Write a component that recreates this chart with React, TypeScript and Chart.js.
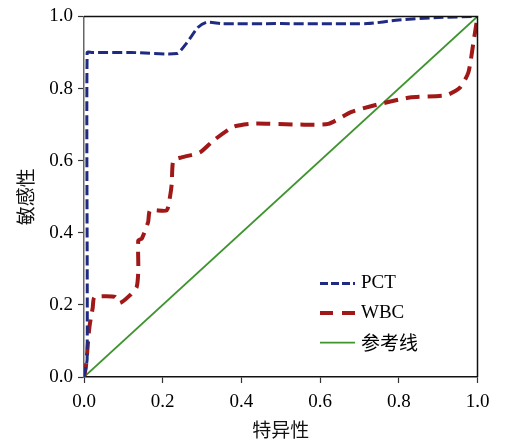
import React, { useEffect, useRef } from "react";
import { Chart, registerables } from "chart.js";

Chart.register(...registerables);

const xTicks = [0, 0.2, 0.4, 0.6, 0.8, 1.0];
const yTicks = [0, 0.2, 0.4, 0.6, 0.8, 1.0];

const seriesLabels = ["PCT", "WBC", "参考线"];

const pctX = [0, 0.008, 0.008, 0.02, 0.12, 0.236, 0.26, 0.29, 0.312, 0.35, 0.5, 0.72, 0.8, 0.9, 1.0];
const pctY = [0, 0.05, 0.9, 0.9, 0.9, 0.897, 0.925, 0.97, 0.984, 0.98, 0.98, 0.98, 0.99, 0.997, 1.0];

const wbcX = [0, 0.005, 0.012, 0.015, 0.022, 0.026, 0.05, 0.079, 0.091, 0.117, 0.134, 0.138, 0.138, 0.147, 0.163, 0.168, 0.21, 0.219, 0.223, 0.227, 0.248, 0.295, 0.329, 0.38, 0.431, 0.55, 0.621, 0.68, 0.744, 0.828, 0.922, 0.956, 0.977, 0.989, 1.0];
const wbcY = [0, 0.03, 0.12, 0.148, 0.191, 0.221, 0.224, 0.222, 0.205, 0.227, 0.25, 0.296, 0.379, 0.384, 0.43, 0.462, 0.462, 0.503, 0.536, 0.6, 0.609, 0.623, 0.656, 0.694, 0.703, 0.7, 0.702, 0.735, 0.755, 0.775, 0.782, 0.803, 0.845, 0.923, 1.0];

const refX = [0, 1];
const refY = [0, 1];

const colors = ["#1f2b82", "#a01818", "#3f9430"];

const toPts = (xs: number[], ys: number[]) => xs.map((x, i) => ({ x, y: ys[i] }));

const serif = "'Liberation Serif', 'Times New Roman', serif";
const cjk = "'Noto Sans CJK SC', 'Noto Sans', sans-serif";

export default function App() {
  const ref = useRef<HTMLCanvasElement | null>(null);
  useEffect(() => {
    if (!ref.current) return;
    const boxPlugin = {
      id: "box",
      afterDatasetsDraw(chart: any) {
        const { ctx, chartArea: a } = chart;
        ctx.save();
        ctx.strokeStyle = "#111";
        ctx.lineWidth = 1.5;
        ctx.beginPath();
        ctx.moveTo(a.left, a.top);
        ctx.lineTo(a.right, a.top);
        ctx.lineTo(a.right, a.bottom);
        ctx.stroke();
        ctx.restore();
      },
    };
    const legendPlugin = {
      id: "customLegend",
      afterDraw(chart: any) {
        const { ctx, chartArea: a } = chart;
        const x0 = a.left + 236;
        const y0 = a.top + 267;
        const step = 29.6;
        chart.data.datasets.forEach((ds: any, i: number) => {
          const y = y0 + i * step;
          ctx.save();
          ctx.strokeStyle = ds.borderColor;
          ctx.lineWidth = ds.borderWidth;
          ctx.setLineDash(ds.legendDash || []);
          ctx.beginPath();
          ctx.moveTo(x0, y);
          ctx.lineTo(x0 + 35, y);
          ctx.stroke();
          ctx.setLineDash([]);
          ctx.fillStyle = "#000";
          ctx.textBaseline = "middle";
          ctx.textAlign = "left";
          ctx.font = i === 2 ? `19px ${cjk}` : `19px ${serif}`;
          ctx.fillText(ds.label, x0 + 41, y);
          ctx.restore();
        });
      },
    };
    const chart = new Chart(ref.current, {
      type: "scatter",
      data: {
        datasets: [
          {
            label: seriesLabels[0],
            data: toPts(pctX, pctY),
            showLine: true,
            borderColor: colors[0],
            backgroundColor: colors[0],
            borderWidth: 3,
            borderDash: [10, 4],
            legendDash: [8, 3],
            pointRadius: 0,
            tension: 0.2,
          } as any,
          {
            label: seriesLabels[1],
            data: toPts(wbcX, wbcY),
            showLine: true,
            borderColor: colors[1],
            backgroundColor: colors[1],
            borderWidth: 4,
            borderDash: [14, 8],
            legendDash: [13, 9],
            pointRadius: 0,
            tension: 0.2,
          } as any,
          {
            label: seriesLabels[2],
            data: toPts(refX, refY),
            showLine: true,
            borderColor: colors[2],
            backgroundColor: colors[2],
            borderWidth: 1.8,
            pointRadius: 0,
          } as any,
        ],
      },
      options: {
        animation: false,
        responsive: false,
        layout: { padding: { left: 0, right: 39.5, top: 15.5, bottom: 0 } },
        plugins: { legend: { display: false }, tooltip: { enabled: false } },
        scales: {
          x: {
            type: "linear",
            min: 0,
            max: 1,
            afterBuildTicks: (s: any) => { s.ticks = xTicks.map((v) => ({ value: v })); },
            afterFit: (s: any) => { s.height = 68; },
            border: { color: "#111", width: 1.5 },
            grid: { drawOnChartArea: false, tickLength: 6, color: "#333", tickWidth: 1.2 },
            ticks: {
              color: "#000",
              font: { family: serif, size: 19 },
              padding: 8,
              maxRotation: 0,
              callback: (v: any) => Number(v).toFixed(1),
            },
            title: { display: true, text: "特异性", color: "#111", font: { family: cjk, size: 19 }, padding: { top: 4 } },
          },
          y: {
            type: "linear",
            min: 0,
            max: 1,
            afterBuildTicks: (s: any) => { s.ticks = yTicks.map((v) => ({ value: v })); },
            afterFit: (s: any) => { s.width = 84; },
            border: { color: "#666", width: 1.5 },
            grid: { drawOnChartArea: false, tickLength: 6, color: "#333", tickWidth: 1.2 },
            ticks: {
              color: "#000",
              font: { family: serif, size: 19 },
              padding: 5,
              callback: (v: any) => Number(v).toFixed(1),
            },
            title: { display: true, text: "敏感性", color: "#111", font: { family: cjk, size: 19 }, padding: { top: 14 } },
          },
        },
      },
      plugins: [boxPlugin, legendPlugin],
    });
    return () => chart.destroy();
  }, []);
  return (
    <div style={{ position: "absolute", left: 0, top: 0, width: 517, height: 445, background: "#fff" }}>
      <canvas ref={ref} width={517} height={445} style={{ display: "block" }} />
    </div>
  );
}
